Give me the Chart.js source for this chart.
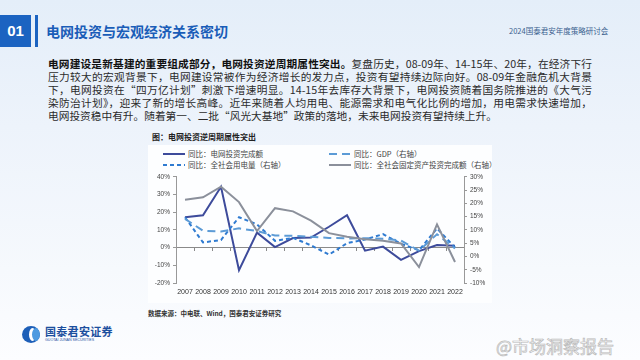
<!DOCTYPE html>
<html><head><meta charset="utf-8">
<script src="https://cdn.jsdelivr.net/npm/chart.js@4.4.0/dist/chart.umd.min.js"></script>
<style>
html,body{margin:0;padding:0;}
body{width:640px;height:360px;overflow:hidden;position:relative;
 background:linear-gradient(180deg,#e4eef9 0%,#edf3fb 35%,#f6f9fd 75%,#fcfdff 100%);
 font-family:"Noto Sans CJK SC","Liberation Sans",sans-serif;}
.abs{position:absolute;white-space:nowrap;}
#box{left:0;top:15px;width:31px;height:32px;background:#1b63c1;color:#fff;font:bold 15px "Liberation Sans",Arial,sans-serif;line-height:32px;text-align:center;}
#bar{left:35px;top:15px;width:3px;height:32px;background:#1b63c1;}
#title{left:46px;top:21px;font-size:14px;font-weight:bold;color:#1a5db8;line-height:20px;}
#conf{left:509px;top:26px;font-size:7.5px;color:#3b5f8f;line-height:10px;}
.pl{position:absolute;left:48px;width:544px;font-size:10.7px;line-height:13px;color:#2b2b2b;text-align:justify;text-align-last:justify;white-space:nowrap;}
.pl b{color:#111;}
#panel{left:148px;top:145px;width:344px;height:158px;background:#fdfeff;}
#ctitle{left:152px;top:131px;font-size:8px;font-weight:bold;color:#222;line-height:12px;}
.lg{position:absolute;font-size:7.5px;color:#444;line-height:10px;white-space:nowrap;}
#src{left:148px;top:308px;font-size:6.5px;font-weight:bold;color:#333;line-height:10px;}
#wrap{left:140px;top:170px;width:350px;height:130px;}
#logo{left:22px;top:326px;width:18px;height:17px;border-radius:50%;background:#1d5fb8;overflow:hidden;}
#logo i{position:absolute;left:7px;top:2px;width:7px;height:13px;border-radius:50%;background:#fff;}
#logo u{position:absolute;left:10px;top:2px;width:8px;height:13px;border-radius:50%;background:#4f9be0;}
#lt{left:45px;top:324px;font-size:11px;font-weight:bold;color:#1c4f9e;line-height:14px;letter-spacing:0.3px;}
#ls{left:45px;top:338px;font-size:3.6px;color:#1c4f9e;line-height:5px;font-family:"Liberation Sans",Arial,sans-serif;}
#wm{left:496px;top:335px;font-size:17px;color:rgba(255,255,255,0.85);-webkit-text-stroke:0.7px #b9b9b9;line-height:22px;}
</style></head>
<body>
<div id="box" class="abs">01</div>
<div id="bar" class="abs"></div>
<div id="title" class="abs">电网投资与宏观经济关系密切</div>
<div id="conf" class="abs">2024国泰君安年度策略研讨会</div>

<div class="pl" style="top:57px"><b>电网建设是新基建的重要组成部分，电网投资逆周期属性突出。</b>复盘历史，08-09年、14-15年、20年，在经济下行</div>
<div class="pl" style="top:70px">压力较大的宏观背景下，电网建设常被作为经济增长的发力点，投资有望持续边际向好。08-09年金融危机大背景</div>
<div class="pl" style="top:83px">下，电网投资在“四万亿计划”刺激下增速明显。14-15年去库存大背景下，电网投资随着国务院推进的《大气污</div>
<div class="pl" style="top:96px">染防治计划》，迎来了新的增长高峰。近年来随着人均用电、能源需求和电气化比例的增加，用电需求快速增加，</div>
<div class="pl" style="top:109px;text-align-last:left;width:auto">电网投资稳中有升。随着第一、二批“风光大基地”政策的落地，未来电网投资有望持续上升。</div>

<div id="panel" class="abs"></div>
<div id="ctitle" class="abs">图：电网投资逆周期属性突出</div>
<div id="legend"></div>
<div id="wrap" class="abs"><canvas id="c" width="350" height="130"></canvas></div>
<div id="src" class="abs">数据来源：中电联、Wind，国泰君安证券研究</div>

<div id="logo" class="abs"><i></i><u></u></div>
<div id="lt" class="abs">国泰君安证券</div>
<div id="ls" class="abs">GUOTAI JUNAN SECURITIES</div>
<div id="wm" class="abs">@市场洞察报告</div>

<script>
// ---- data ----
const years = ['2007','2008','2009','2010','2011','2012','2013','2014','2015','2016','2017','2018','2019','2020','2021','2022'];
const gridInvestYoY = [17.2, 18.3, 34.4, -12.8, 8.5, 0.3, 5.4, 5.7, 11.8, 18.3, -1.7, 0.6, -6.9, -2.0, 1.5, 1.1];   // left axis
const electricityYoY = [14.8, 5.3, 6.2, 14.8, 12.1, 5.9, 7.0, 4.2, 0.7, 5.0, 6.4, 8.4, 4.8, 2.3, 10.6, 3.4];      // right axis
const gdpYoY = [14.2, 9.7, 9.4, 10.6, 9.6, 7.9, 7.8, 7.4, 7.0, 6.8, 6.9, 6.7, 6.0, 2.2, 8.4, 3.0];               // right axis
const faiYoY = [21.4, 22.3, 26.3, 20.5, 9.6, 18.2, 17.0, 13.5, 8.8, 7.4, 6.5, 5.9, 4.9, -4.0, 12.1, -2.1];        // right axis
const leftTicks = {min: -20, max: 40, step: 10};
const rightTicks = {min: -10, max: 30, step: 5};
const seriesNames = ['同比：电网投资完成额','同比：全社会用电量（右轴）','同比：GDP（右轴）','同比：全社会固定资产投资完成额（右轴）'];

const pct = v => v + '%';
const tickFont = {family:'"Liberation Sans", Arial, sans-serif', size:6.5};
const datasets = [
  {label:seriesNames[0], data:gridInvestYoY, yAxisID:'y', borderColor:'#3d4b9b', borderWidth:2},
  {label:seriesNames[1], data:electricityYoY, yAxisID:'y1', borderColor:'#2f7bd1', borderWidth:2, borderDash:[4,3]},
  {label:seriesNames[2], data:gdpYoY, yAxisID:'y1', borderColor:'#5c9bd6', borderWidth:2, borderDash:[8,5]},
  {label:seriesNames[3], data:faiYoY, yAxisID:'y1', borderColor:'#8b909b', borderWidth:2}
];
datasets.forEach(d => { d.pointRadius = 0; d.tension = 0; d.fill = false; });

new Chart(document.getElementById('c'), {
  type:'line',
  data:{labels:years, datasets:datasets.slice().reverse()},
  options:{
    responsive:false, animation:false, devicePixelRatio:1,
    layout:{padding:{top:5, bottom:0, left:0, right:0}},
    plugins:{legend:{display:false}, tooltip:{enabled:false}},
    scales:{
      x:{offset:true, grid:{display:false, drawTicks:false}, border:{display:false},
         ticks:{font:{family:'"Liberation Sans", Arial, sans-serif', size:7}, color:'#333', maxRotation:0, minRotation:0, autoSkip:false, padding:5},
         afterFit:s=>{s.height=17;}},
      x0:{type:'category', position:{y:0}, offset:true,
          grid:{offset:true, drawOnChartArea:false, drawTicks:true, tickLength:3, color:'#8a8a8a', lineWidth:1},
          border:{display:true, color:'#8a8a8a', width:1}, ticks:{display:false},
          afterFit:s=>{s.height=0;}},
      y:{position:'left', min:leftTicks.min, max:leftTicks.max,
         ticks:{stepSize:leftTicks.step, callback:pct, font:tickFont, color:'#444', padding:3},
         grid:{drawOnChartArea:false, tickLength:3, color:'#999'}, border:{color:'#999'},
         afterFit:s=>{s.width=36;}},
      y1:{position:'right', min:rightTicks.min, max:rightTicks.max,
         ticks:{stepSize:rightTicks.step, callback:pct, font:tickFont, color:'#444', padding:3},
         grid:{drawOnChartArea:false, tickLength:3, color:'#999'}, border:{color:'#999'},
         afterFit:s=>{s.width=26;}}
    }
  }
});

// HTML legend built from datasets
const legendPos = [[163,149],[163,160],[329,149],[329,160]];
const lg = document.getElementById('legend');
datasets.forEach((d,i)=>{
  const [x,y] = legendPos[i];
  const dash = d.borderDash ? d.borderDash.join(',') : 'none';
  const el = document.createElement('div');
  el.className='lg'; el.style.left=x+'px'; el.style.top=y+'px';
  el.innerHTML = `<svg width="22" height="10" style="vertical-align:top"><line x1="0" y1="5" x2="22" y2="5" stroke="${d.borderColor}" stroke-width="2" stroke-dasharray="${dash}"/></svg><span style="margin-left:3px">${d.label}</span>`;
  lg.appendChild(el);
});
</script>
</body></html>
